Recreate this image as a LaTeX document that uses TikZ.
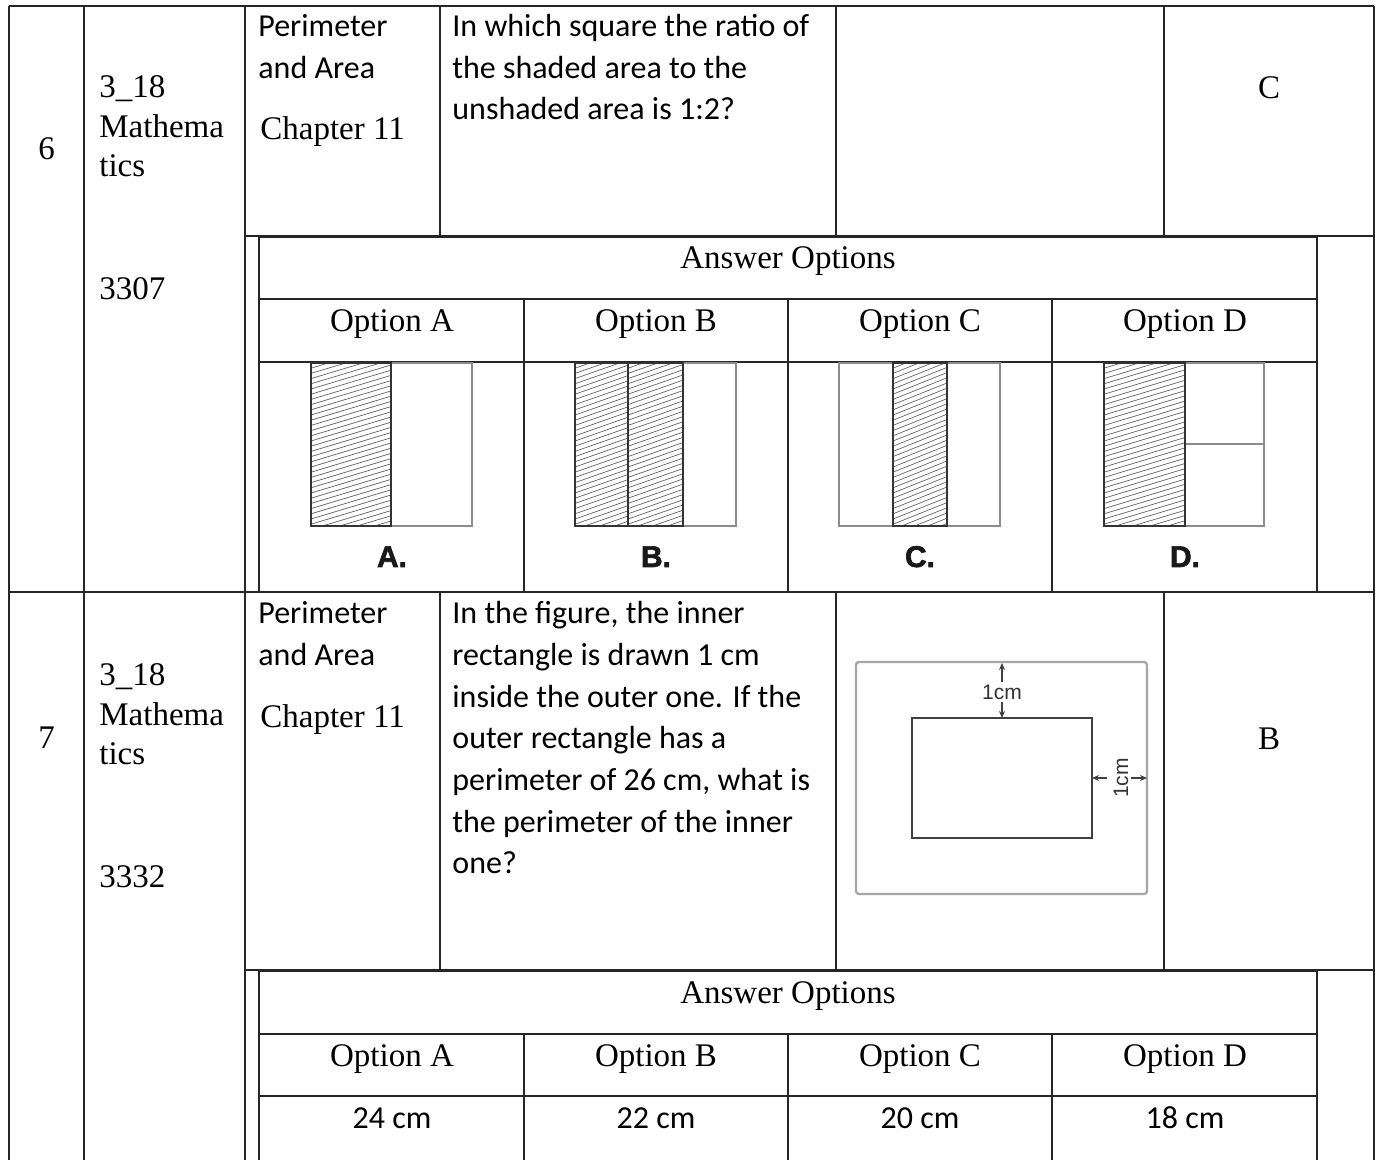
\documentclass[tikz,border=0pt]{standalone}
\usepackage{fontspec}
\setmainfont{Liberation Serif}
\newfontfamily\carl{Carlito}
\newfontfamily\arialf{Liberation Sans}
\newfontfamily\heavyf[FakeBold=2]{Liberation Sans Bold}
\usetikzlibrary{arrows.meta}
\definecolor{tline}{HTML}{262626}
\newcommand{\hatchbox}[5]{% x0 y0 x1 y1 slope
  \begin{scope}
    \clip (#1,#2) rectangle (#3,#4);
    \foreach \k in {0,...,48}{
      \draw[hatchline] (#1,{#2+\k*5.2}) -- (#3,{#2+\k*5.2-#5*(#3-#1)});
    }
  \end{scope}
  \draw[hatchedge] (#1,#2) rectangle (#3,#4);
}
\begin{document}
\begin{tikzpicture}[x=0.5pt,y=-0.5pt,
  tl/.style={draw=tline,line width=1pt},
  ser/.style={inner sep=0pt,font=\fontsize{16.5}{20}\selectfont},
  sans/.style={inner sep=0pt,font=\carl\fontsize{16}{20}\selectfont},
  lw/.style={anchor=base west},
  cb/.style={anchor=base},
  figlbl/.style={inner sep=0pt,anchor=base,font=\heavyf\fontsize{15}{16}\selectfont,text=black!90},
  dimlbl/.style={inner sep=0pt,font=\arialf\fontsize{10.5}{12}\selectfont,text=black!80},
  hatchline/.style={draw=black!60,line width=0.36pt},
  hatchedge/.style={draw=black!80,line width=0.8pt},
  plainedge/.style={draw=black!45,line width=0.8pt},
  dimarrow/.style={draw=black!75,line width=0.6pt,-{Stealth[length=3.5pt,width=3pt]}},
]
\useasboundingbox (0,0) rectangle (1382,1160);
\fill[white] (0,0) rectangle (1382,1160);

% ---------- outer table ----------
\draw[tl] (9,6) -- (1374,6);
\draw[tl] (9,6) -- (9,1160);
\draw[tl] (84,6) -- (84,1160);
\draw[tl] (245,6) -- (245,1160);
\draw[tl] (1374,6) -- (1374,1160);
\draw[tl] (440,6) -- (440,236);
\draw[tl] (836,6) -- (836,236);
\draw[tl] (1164,6) -- (1164,236);
\draw[tl] (245,236) -- (1374,236);
\draw[tl] (9,592) -- (1374,592);
\draw[tl] (440,592) -- (440,970);
\draw[tl] (836,592) -- (836,970);
\draw[tl] (1164,592) -- (1164,970);
\draw[tl] (245,970) -- (1374,970);

% ---------- inner answer table, row 6 ----------
\draw[tl] (259,237) rectangle (1317,592);
\draw[tl] (259,299) -- (1317,299);
\draw[tl] (259,362) -- (1317,362);
\foreach \xx in {524,788,1052} \draw[tl] (\xx,299) -- (\xx,592);

% ---------- inner answer table, row 7 ----------
\draw[tl] (259,1160) -- (259,971) -- (1317,971) -- (1317,1160);
\draw[tl] (259,1034) -- (1317,1034);
\draw[tl] (259,1096) -- (1317,1096);
\foreach \xx in {524,788,1052} \draw[tl] (\xx,1034) -- (\xx,1160);

% ---------- row 6 texts ----------
\node[ser,cb] (n6) at (46.5,160) {6};
\node[ser,lw] (s6a) at (99,98) {3\_18};
\node[ser,lw] (s6b) at (99,138) {Mathema};
\node[ser,lw] (s6c) at (99,177) {tics};
\node[ser,lw] (id6) at (99,300) {3307};
\node[sans,lw] (t6a) at (258,37) {Perimeter};
\node[sans,lw] (t6b) at (258,78.5) {and Area};
\node[ser,lw] (t6c) at (260,140) {Chapter 11};
\node[sans,lw] (q6a) at (452,37) {In which square the ratio of};
\node[sans,lw] (q6b) at (452,78.5) {the shaded area to the};
\node[sans,lw] (q6c) at (452,120) {unshaded area is 1:2?};
\node[ser,cb] (k6) at (1269,99) {C};
\node[ser,cb] (ao6) at (788,269) {Answer Options};
\node[ser,cb] (o6a) at (392,332) {Option A};
\node[ser,cb] (o6b) at (656,332) {Option B};
\node[ser,cb] (o6c) at (920,332) {Option C};
\node[ser,cb] (o6d) at (1185,332) {Option D};

% ---------- hatched squares ----------
% A
\draw[plainedge] (311,363) rectangle (472,526);
\hatchbox{311}{363}{391}{526}{0.3}
% B
\draw[plainedge] (575,363) rectangle (736,526);
\hatchbox{575}{363}{628}{526}{0.35}
\hatchbox{628}{363}{683}{526}{0.35}
% C
\draw[plainedge] (839,363) rectangle (1000,526);
\hatchbox{893}{363}{947}{526}{0.4}
% D
\draw[plainedge] (1104,363) rectangle (1264,526);
\draw[plainedge] (1185,444) -- (1264,444);
\hatchbox{1104}{363}{1185}{526}{0.3}

\node[figlbl] (la) at (392,567) {A.};
\node[figlbl] (lb) at (656,567) {B.};
\node[figlbl] (lc) at (920,567) {C.};
\node[figlbl] (ld) at (1185,567) {D.};

% ---------- row 7 texts ----------
\node[ser,cb] (n7) at (46.5,748) {7};
\node[ser,lw] (s7a) at (99,685) {3\_18};
\node[ser,lw] (s7b) at (99,725) {Mathema};
\node[ser,lw] (s7c) at (99,764) {tics};
\node[ser,lw] (id7) at (99,887) {3332};
\node[sans,lw] (t7a) at (258,624) {Perimeter};
\node[sans,lw] (t7b) at (258,665.5) {and Area};
\node[ser,lw] (t7c) at (260,727) {Chapter 11};
\node[sans,lw] (q7a) at (452,624) {In the figure, the inner};
\node[sans,lw] (q7b) at (452,665.6) {rectangle is drawn 1 cm};
\node[sans,lw] (q7c) at (452,707.2) {inside the outer one. If the};
\node[sans,lw] (q7d) at (452,748.8) {outer rectangle has a};
\node[sans,lw] (q7e) at (452,790.4) {perimeter of 26 cm, what is};
\node[sans,lw] (q7f) at (452,832) {the perimeter of the inner};
\node[sans,lw] (q7g) at (452,873.6) {one?};
\node[ser,cb] (k7) at (1269,749) {B};
\node[ser,cb] (ao7) at (788,1003) {Answer Options};
\node[ser,cb] (o7a) at (392,1066) {Option A};
\node[ser,cb] (o7b) at (656,1066) {Option B};
\node[ser,cb] (o7c) at (920,1066) {Option C};
\node[ser,cb] (o7d) at (1185,1066) {Option D};
\node[sans,cb] (v7a) at (392,1128) {24 cm};
\node[sans,cb] (v7b) at (656,1128) {22 cm};
\node[sans,cb] (v7c) at (920,1128) {20 cm};
\node[sans,cb] (v7d) at (1185,1128) {18 cm};

% ---------- rectangle figure ----------
\draw[draw=black!35,line width=1.2pt,rounded corners=1.5pt] (856,662) rectangle (1147,894);
\draw[draw=black!75,line width=0.6pt] (912,718) rectangle (1092,838);
\coordinate (vt) at (1002,663);
\coordinate (vb) at (1002,718);
\coordinate (hl) at (1092,778);
\coordinate (hr) at (1147,778);
\node[dimlbl] (cm1) at (1002,692) {1cm};
\node[dimlbl,rotate=90] (cm2) at (1121,778) {1cm};
\draw[dimarrow] (1002,682) -- (vt);
\draw[dimarrow] (1002,702) -- (vb);
\draw[dimarrow] (1107,778) -- (hl);
\draw[dimarrow] (1131,778) -- (hr);
\end{tikzpicture}
\end{document}
